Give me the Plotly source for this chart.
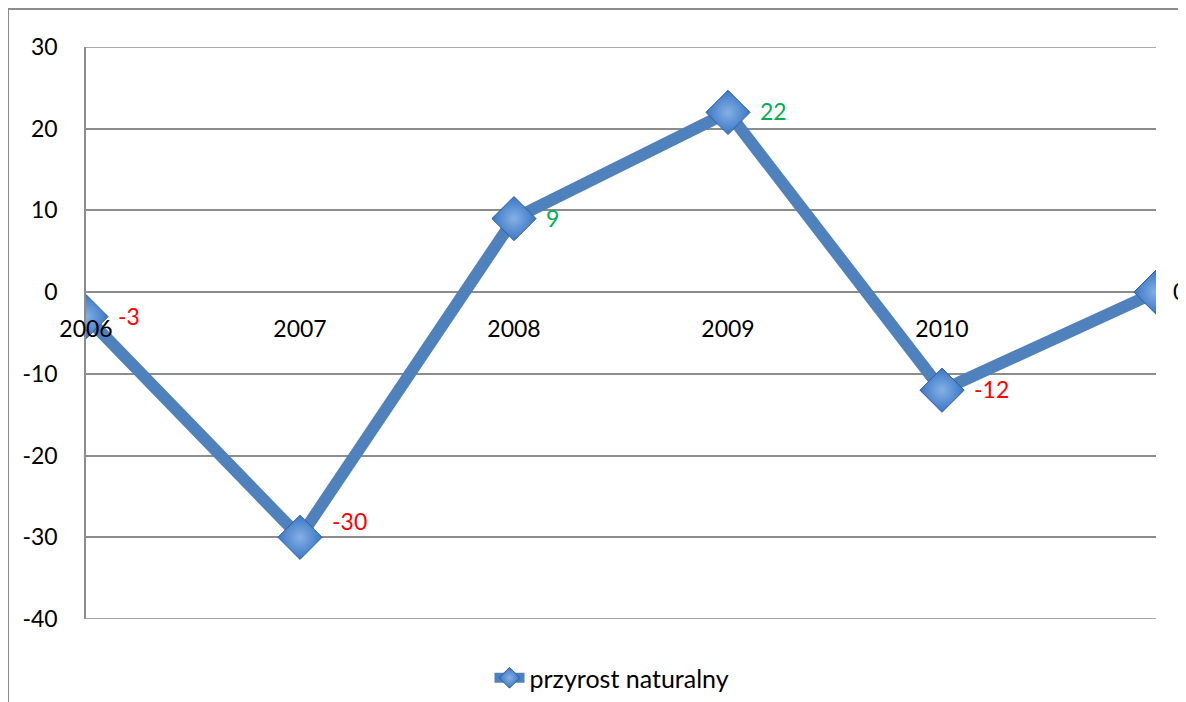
import plotly.graph_objects as go

categories = ["2006", "2007", "2008", "2009", "2010", ""]
values = [-3, -30, 9, 22, -12, 0]
label_colors = ["#FF0000", "#FF0000", "#00B050", "#00B050", "#FF0000", "#000000"]
y_ticks = [-40, -30, -20, -10, 0, 10, 20, 30]
series_name = "przyrost naturalny"

# page body has an 8px default margin, so the figure is drawn 8px smaller
OFF = 8
W, H = 1186 - OFF, 702 - OFF
L, R, T, B = 86 - OFF, 30, 47 - OFF, 83
plot_w = W - L - R
plot_h = H - T - B

FONT = "Lato, Open Sans, sans-serif"
FS = 23

xs = list(range(len(categories)))

fig = go.Figure()
fig.add_trace(go.Scatter(
    x=xs, y=values, mode="lines+markers", name=series_name,
    line=dict(color="#4F81BD", width=12),
    marker=dict(symbol="diamond", size=34, color="#3976C6",
                gradient=dict(type="radial", color="#86B0E4"),
                line=dict(color="#2E5F9E", width=1)),
    hoverinfo="skip",
))

n = len(values)
for i, (x, v, c) in enumerate(zip(xs, values, label_colors)):
    fig.add_annotation(x=x, y=v, xref="x", yref="y", text=str(v),
                       showarrow=False, xanchor="left", yanchor="middle",
                       xshift=(15 if i == n - 1 else 30),
                       yshift=(16 if i == 1 else 1),
                       font=dict(family=FONT, size=FS, color=c))

gray = "#8C8C8C"
# top and bottom gridlines at the range edges
for yv in (y_ticks[0], y_ticks[-1]):
    fig.add_shape(type="line", xref="paper", yref="y", x0=0, x1=1, y0=yv, y1=yv,
                  line=dict(color=gray, width=1.5), layer="below")
# outer chart frame (partially visible)
fx0 = (8 - OFF - L) / plot_w
fy_top = (H - B - (9 - OFF)) / plot_h
fig.add_shape(type="line", xref="paper", yref="paper", x0=fx0, x1=fx0, y0=fy_top, y1=-0.3,
              line=dict(color=gray, width=2))
fig.add_shape(type="line", xref="paper", yref="paper", x0=fx0, x1=1.1, y0=fy_top, y1=fy_top,
              line=dict(color=gray, width=2))

fig.update_layout(
    width=W, height=H,
    margin=dict(l=L, r=R, t=T, b=B, autoexpand=False),
    paper_bgcolor="white", plot_bgcolor="white",
    font=dict(family=FONT, size=FS, color="#000000"),
    showlegend=True,
    legend=dict(orientation="h", x=(612 - 86) / plot_w, xanchor="center",
                y=(H - B - (678 - OFF)) / plot_h,
                yanchor="middle", font=dict(size=25)),
    xaxis=dict(range=[0, len(categories) - 1], tickmode="array",
               tickvals=xs[:-1], ticktext=categories[:-1],
               showgrid=False, zeroline=False, showline=False,
               anchor="free", position=4 / 7, ticks="", ticklabelstandoff=21,
               automargin=False),
    yaxis=dict(range=[-40, 30], tickmode="array", tickvals=y_ticks,
               ticktext=[str(t) for t in y_ticks],
               showgrid=True, gridcolor=gray, gridwidth=1.5,
               zeroline=False, showline=True, linecolor=gray, linewidth=1.5,
               ticks="", ticklabelstandoff=22, automargin=False),
)

fig.write_html("out.html")
